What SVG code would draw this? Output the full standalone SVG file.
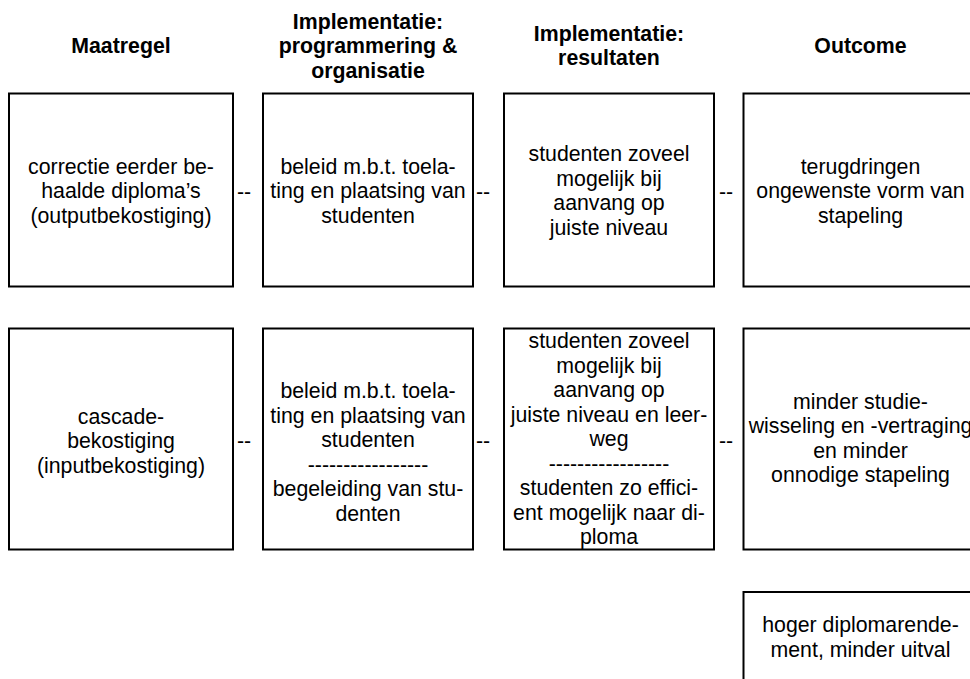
<svg xmlns="http://www.w3.org/2000/svg" width="970" height="679" viewBox="0 0 970 679">
<style>
.bg{fill:#fff}
.box{fill:#fff;stroke:#000;stroke-width:2}
text{font-family:"Liberation Sans",Arial,sans-serif;font-size:21.3px;fill:#000;text-anchor:middle}
.h{font-weight:bold}
.c{text-anchor:start}
</style>
<rect class="bg" x="0" y="0" width="970" height="679"/>
<g id="headers">
<text class="h" x="121" y="53">Maatregel</text>
<text class="h" x="368" y="28.5">Implementatie:</text>
<text class="h" x="368" y="53">programmering &amp;</text>
<text class="h" x="368" y="77.5">organisatie</text>
<text class="h" x="609" y="40.5">Implementatie:</text>
<text class="h" x="609" y="65">resultaten</text>
<text class="h" x="860.5" y="53">Outcome</text>
</g>
<g id="r1-maatregel">
<rect class="box" x="9" y="93.5" width="224" height="193"/>
<text x="121" y="173.5">correctie eerder be-</text>
<text x="121" y="198">haalde diploma’s</text>
<text x="121" y="222.5">(outputbekostiging)</text>
</g>
<g id="r1-programmering">
<rect class="box" x="263" y="93.5" width="210" height="193"/>
<text x="368" y="173.5">beleid m.b.t. toela-</text>
<text x="368" y="198">ting en plaatsing van</text>
<text x="368" y="222.5">studenten</text>
</g>
<g id="r1-resultaten">
<rect class="box" x="504" y="93.5" width="210" height="193"/>
<text x="609" y="161">studenten zoveel</text>
<text x="609" y="185.5">mogelijk bij</text>
<text x="609" y="210">aanvang op</text>
<text x="609" y="234.5">juiste niveau</text>
</g>
<g id="r1-outcome">
<rect class="box" x="743.5" y="93.5" width="235" height="193"/>
<text x="860.5" y="173.5">terugdringen</text>
<text x="860.5" y="198">ongewenste vorm van</text>
<text x="860.5" y="222.5">stapeling</text>
</g>
<g id="r2-maatregel">
<rect class="box" x="9" y="328.5" width="224" height="221"/>
<text x="121" y="423.5">cascade-</text>
<text x="121" y="448">bekostiging</text>
<text x="121" y="472.5">(inputbekostiging)</text>
</g>
<g id="r2-programmering">
<rect class="box" x="263" y="328.5" width="210" height="221"/>
<text x="368" y="398">beleid m.b.t. toela-</text>
<text x="368" y="422.5">ting en plaatsing van</text>
<text x="368" y="447">studenten</text>
<text x="368" y="471.5">-----------------</text>
<text x="368" y="496">begeleiding van stu-</text>
<text x="368" y="520.5">denten</text>
</g>
<g id="r2-resultaten">
<rect class="box" x="504" y="328.5" width="210" height="221"/>
<text x="609" y="348">studenten zoveel</text>
<text x="609" y="372.5">mogelijk bij</text>
<text x="609" y="397">aanvang op</text>
<text x="609" y="421.5">juiste niveau en leer-</text>
<text x="609" y="446">weg</text>
<text x="609" y="470.5">-----------------</text>
<text x="609" y="495">studenten zo effici-</text>
<text x="609" y="519.5">ent mogelijk naar di-</text>
<text x="609" y="544">ploma</text>
</g>
<g id="r2-outcome">
<rect class="box" x="743.5" y="328.5" width="235" height="221"/>
<text x="860.5" y="408.5">minder studie-</text>
<text x="860.5" y="433">wisseling en -vertraging</text>
<text x="860.5" y="457.5">en minder</text>
<text x="860.5" y="482">onnodige stapeling</text>
</g>
<g id="r3-outcome">
<rect class="box" x="743.5" y="592" width="235" height="120"/>
<text x="860.5" y="632">hoger diplomarende-</text>
<text x="860.5" y="656.5">ment, minder uitval</text>
</g>
<g id="connectors">
<text class="c" x="237" y="198.5">--</text>
<text class="c" x="476" y="198.5">--</text>
<text class="c" x="719" y="198.5">--</text>
<text class="c" x="237" y="447.5">--</text>
<text class="c" x="476" y="447.5">--</text>
<text class="c" x="719" y="447.5">--</text>
</g>
</svg>
